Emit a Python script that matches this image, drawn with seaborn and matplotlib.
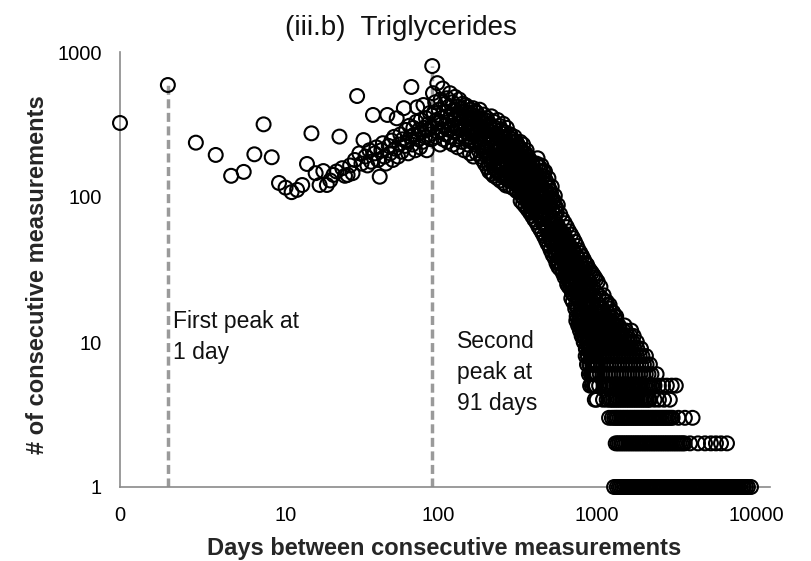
import matplotlib
matplotlib.use("Agg")
import matplotlib.pyplot as plt
from matplotlib.ticker import NullLocator, FixedLocator, FixedFormatter
import pandas as pd
import seaborn as sns

# ---------------- data ----------------
# days 0..91, one count per day
early_days = list(range(0, 92))
early_counts = [324, 592, 237, 195, 140, 149, 197, 317, 188, 125,
                116, 108, 112, 121, 169, 275, 146, 121, 151, 121,
                130, 142, 150, 261, 158, 140, 142, 165, 146, 180,
                497, 200, 170, 247, 190, 165, 210, 175, 368, 200,
                220, 180, 138, 210, 235, 190, 170, 368, 225, 200,
                245, 180, 260, 215, 349, 190, 230, 270, 205, 250,
                410, 225, 290, 240, 200, 310, 260, 574, 230, 300,
                270, 210, 330, 416, 250, 290, 220, 340, 280, 240,
                431, 300, 260, 350, 210, 290, 320, 270, 380, 300,
                250, 800]

# days 92..201
mid_a_days = list(range(92, 202))
mid_a_counts = [520, 380, 300, 450, 260, 340, 610, 280, 400, 330,
                230, 470, 350, 290, 560, 250, 390, 310, 440, 270,
                360, 480, 240, 330, 420, 290, 520, 260, 370, 310,
                450, 230, 340, 400, 280, 490, 250, 360, 300, 420,
                220, 380, 320, 470, 260, 350, 290, 410, 240, 330,
                440, 270, 360, 210, 390, 300, 430, 250, 340, 280,
                420, 230, 320, 380, 260, 350, 200, 400, 290, 330,
                240, 370, 280, 410, 190, 340, 300, 360, 230, 390,
                270, 320, 200, 380, 250, 350, 290, 210, 330, 260,
                400, 240, 310, 190, 350, 270, 230, 330, 180, 300,
                250, 370, 210, 290, 170, 340, 260, 220, 310, 190]

# days 202..400 (even days)
mid_b_days = list(range(202, 401, 2))
mid_b_counts = [350, 230, 290, 170, 320, 200, 260, 360, 180, 280,
                240, 330, 160, 300, 210, 270, 150, 340, 230, 190,
                310, 250, 170, 290, 140, 260, 200, 320, 220, 160,
                280, 190, 240, 135, 300, 210, 170, 260, 150, 230,
                200, 270, 140, 240, 180, 130, 250, 160, 220, 190,
                260, 145, 210, 170, 240, 125, 190, 230, 150, 200,
                120, 220, 170, 240, 140, 190, 110, 210, 160, 180,
                230, 130, 170, 105, 200, 150, 120, 190, 140, 210,
                100, 170, 130, 190, 115, 150, 95, 180, 125, 160,
                140, 100, 175, 120, 90, 150, 110, 165, 130, 85]

# days 203..399 (odd days)
mid_b2_days = list(range(203, 400, 2))
mid_b2_counts = [160, 270, 190, 150, 310, 175, 220, 145, 250, 185,
                 140, 205, 290, 155, 235, 170, 135, 260, 190, 150,
                 215, 130, 175, 275, 145, 200, 160, 125, 235, 180,
                 140, 250, 120, 195, 165, 230, 130, 185, 150, 270,
                 118, 205, 160, 135, 240, 145, 180, 115, 215, 155,
                 125, 190, 140, 225, 110, 170, 135, 205, 120, 160,
                 195, 108, 150, 130, 215, 115, 175, 140, 100, 190,
                 125, 160, 98, 180, 135, 110, 200, 120, 150, 95,
                 165, 105, 140, 90, 175, 120, 100, 155, 88, 135,
                 115, 80, 150, 95, 125, 78, 140, 100, 82]

# days 404..1000 (every fourth day)
mid_c_days = list(range(404, 1001, 4))
mid_c_counts = [150, 95, 125, 170, 80, 110, 140, 75, 160, 100,
                120, 72, 135, 90, 150, 65, 110, 85, 130, 62,
                105, 70, 120, 55, 90, 75, 110, 50, 95, 65,
                80, 48, 92, 60, 42, 75, 55, 85, 40, 65,
                50, 36, 62, 42, 55, 32, 46, 58, 38, 52,
                44, 30, 55, 36, 48, 28, 40, 52, 33, 45,
                38, 25, 46, 30, 42, 24, 35, 44, 28, 38,
                32, 20, 40, 26, 35, 19, 30, 42, 23, 34,
                28, 17, 36, 22, 31, 15, 26, 38, 20, 29,
                24, 14, 32, 19, 27, 13, 22, 34, 17, 25,
                20, 11, 28, 15, 23, 10, 18, 30, 13, 21,
                17, 8, 25, 12, 19, 7, 15, 27, 10, 18,
                14, 6, 22, 9, 16, 5, 12, 24, 8, 15,
                11, 5, 19, 7, 14, 6, 10, 21, 8, 13,
                9, 4, 17, 6, 12, 5, 8, 19, 7, 11]

# days 406..998 (every fourth day, offset)
mid_c2_days = list(range(406, 1000, 4))
mid_c2_counts = [88, 140, 78, 120, 100, 165, 82, 130, 92, 150,
                 70, 115, 85, 140, 66, 100, 125, 75, 95, 110,
                 60, 98, 80, 115, 52, 88, 68, 105, 58, 82,
                 50, 72, 95, 45, 66, 85, 40, 58, 78, 48,
                 42, 60, 35, 52, 45, 38, 57, 40, 48, 34,
                 38, 50, 31, 44, 56, 35, 42, 29, 50, 37,
                 30, 43, 27, 38, 48, 31, 26, 40, 34, 24,
                 28, 38, 22, 33, 44, 25, 30, 21, 36, 27,
                 23, 33, 18, 29, 40, 21, 26, 17, 31, 24,
                 19, 29, 15, 25, 35, 17, 22, 14, 28, 20,
                 16, 26, 12, 21, 32, 14, 19, 11, 24, 17,
                 13, 22, 9, 18, 29, 11, 16, 8, 21, 14,
                 10, 19, 7, 15, 26, 9, 13, 6, 18, 12,
                 8, 16, 6, 12, 24, 7, 11, 5, 15, 9,
                 7, 14, 5, 10, 22, 6, 9, 4, 12]

# high-count days along the upper-right rim of the cloud
rim_high_days = [422, 446, 470, 494, 518, 542, 566, 586, 606, 626,
                 646, 666, 686, 706, 726, 746, 766, 786, 806, 826,
                 846, 866, 886, 906, 926, 946, 966, 986, 1010, 1050,
                 1100, 1150, 1200, 1260, 1320]
rim_high_counts = [185, 165, 150, 135, 118, 102, 88, 76, 70, 66,
                   62, 58, 55, 52, 49, 46, 43, 41, 39, 37,
                   35, 34, 32, 31, 30, 29, 28, 27, 26, 24,
                   21, 19, 18, 16, 15]

# low-count days along the lower-left rim of the cloud
rim_low_days = [330, 342, 354, 366, 378, 390, 402, 414, 426, 438,
                450, 462, 474, 486, 498, 510, 525, 540, 555, 570]
rim_low_counts = [94, 90, 86, 82, 78, 74, 70, 67, 63, 60,
                  57, 54, 51, 48, 46, 43, 40, 38, 35, 33]

late_days = [1008, 1024, 1040, 1056, 1072, 1088, 1104, 1120, 1136, 1152,
             1168, 1184, 1200, 1230, 1260, 1290]
late_counts = [16, 21, 18, 15, 20, 17, 16, 19, 15, 18,
               16, 15, 17, 15, 16, 15]

# days whose count equals a given small value
days_count_1 = [1280, 1330, 1370, 1405, 1441, 1477, 1516, 1557, 1596, 1637,
                1681, 1723, 1769, 1816, 1861, 1911, 1959, 2012, 2062, 2118,
                2171, 2229, 2285, 2347, 2406, 2470, 2532, 2600, 2666, 2737,
                2806, 2881, 2954, 3033, 3110, 3193, 3274, 3361, 3446, 3538,
                3628, 3724, 3819, 3920, 4020, 4127, 4232, 4344, 4455, 4573,
                4690, 4814, 4937, 5067, 5197, 5334, 5471, 5615, 5759, 5911,
                6063, 6222, 6382, 6550, 6718, 6895, 7072, 7258, 7444, 7640,
                7836, 8042, 8249, 8400, 8650, 8900, 9300]
days_count_2 = [1310, 1345, 1378, 1416, 1451, 1491, 1528, 1570, 1609, 1653,
                1694, 1740, 1783, 1831, 1877, 1928, 1976, 2029, 2080, 2136,
                2190, 2249, 2305, 2367, 2427, 2492, 2555, 2623, 2689, 2761,
                2831, 2907, 2980, 3060, 3137, 3221, 3303, 3391, 3477, 3560,
                3846, 4317, 4777, 5208, 5600, 6025, 6570]
days_count_3 = [1190, 1240, 1280, 1314, 1346, 1383, 1417, 1456, 1492, 1533,
                1571, 1614, 1654, 1699, 1741, 1788, 1832, 1882, 1929, 1981,
                2031, 2086, 2138, 2195, 2250, 2311, 2369, 2433, 2494, 2561,
                2625, 2695, 2763, 2837, 2909, 2990, 3250, 3570, 3990]
days_count_4 = [1090, 1150, 1200, 1232, 1262, 1297, 1329, 1365, 1399, 1437,
                1472, 1513, 1550, 1592, 1632, 1676, 1718, 1764, 1808, 1857,
                1904, 1955, 2004, 2058, 2110, 2150, 2300, 2450, 2640, 2870]
days_count_5 = [960, 1030, 1100, 1129, 1157, 1189, 1218, 1252, 1282, 1318,
                1350, 1387, 1421, 1460, 1496, 1537, 1575, 1618, 1658, 1703,
                1746, 1793, 1838, 1887, 1934, 1987, 2036, 2091, 2144, 2201,
                2257, 2300, 2450, 2600, 2750, 2950, 3130]
days_count_6 = [960, 1000, 1040, 1082, 1125, 1170, 1217, 1266, 1316, 1369,
                1424, 1481, 1540, 1602, 1666, 1732, 1801, 1873, 1948, 2026,
                2107, 2200, 2370]
days_count_7 = [900, 936, 973, 1012, 1053, 1095, 1139, 1184, 1232, 1281,
                1332, 1385, 1441, 1498, 1558, 1621, 1686, 1753, 1823, 1896,
                1972, 2050, 2150]
days_count_8 = [880, 915, 952, 990, 1030, 1071, 1114, 1158, 1205, 1253,
                1303, 1355, 1409, 1466, 1524, 1585, 1649, 1715, 1783, 1855,
                1929, 2030]
days_count_9 = [850, 884, 919, 956, 994, 1034, 1075, 1118, 1163, 1210,
                1258, 1308, 1361, 1415, 1472, 1531, 1592, 1656, 1722, 1791,
                1890]
days_count_10 = [830, 863, 898, 934, 971, 1010, 1050, 1092, 1136, 1181,
                 1229, 1278, 1329, 1382, 1437, 1495, 1555, 1617, 1682, 1780]
days_count_11 = [800, 832, 865, 900, 936, 973, 1012, 1053, 1095, 1139,
                 1184, 1232, 1281, 1332, 1385, 1441, 1499, 1559, 1620, 1700]
days_count_12 = [780, 811, 844, 877, 912, 949, 987, 1026, 1067, 1110,
                 1154, 1201, 1249, 1299, 1351, 1405, 1461, 1519, 1640]
days_count_13 = [760, 790, 822, 855, 889, 925, 962, 1000, 1040, 1082,
                 1125, 1170, 1217, 1266, 1316, 1369, 1490]
days_count_14 = [740, 770, 800, 832, 866, 900, 936, 974, 1013, 1053,
                 1095, 1139, 1185, 1232, 1320]

x_tick_days = [0, 10, 100, 1000, 10000]
x_tick_labels = ["0", "10", "100", "1000", "10000"]
y_ticks = [1, 10, 100, 1000]
y_tick_labels = ["1", "10", "100", "1000"]
peak_days = [1, 91]
peak_counts = [early_counts[1], early_counts[91]]

# ---------------- assemble ----------------
pairs = [(early_days, early_counts), (mid_a_days, mid_a_counts),
         (mid_b_days, mid_b_counts), (mid_b2_days, mid_b2_counts),
         (mid_c_days, mid_c_counts), (mid_c2_days, mid_c2_counts),
         (rim_high_days, rim_high_counts), (rim_low_days, rim_low_counts),
         (late_days, late_counts)]
frames = [pd.DataFrame({"day": d, "count": c}) for d, c in pairs]
level_lists = [days_count_1, days_count_2, days_count_3, days_count_4,
               days_count_5, days_count_6, days_count_7, days_count_8,
               days_count_9, days_count_10, days_count_11, days_count_12,
               days_count_13, days_count_14]
for lvl, dl in enumerate(level_lists, start=1):
    frames.append(pd.DataFrame({"day": dl, "count": [lvl] * len(dl)}))
df = pd.concat(frames, ignore_index=True)
df = df.sort_values("day", kind="stable").reset_index(drop=True)
df["x"] = df["day"] + 1          # axis is log(days + 1)

# ---------------- plot ----------------
sns.set_style("white")
plt.rcParams["font.family"] = ["Liberation Sans", "DejaVu Sans"]

fig = plt.figure(figsize=(8.12, 5.61), dpi=100)
ax = fig.add_axes([120 / 812, 1 - 487 / 561, 650 / 812, 435 / 561])

ax.set_xscale("log")
ax.set_yscale("log")
ax.set_xlim(1, 12250)
ax.set_ylim(1, 1000)

ax.vlines([d + 1 for d in peak_days], 1, peak_counts, colors="#9a9a9a",
          linewidth=2.5, linestyles=(0, (2.6, 1.3)), zorder=2)

sns.scatterplot(data=df, x="x", y="count", ax=ax, s=100,
                facecolors="none", edgecolors="black", linewidth=1.5,
                clip_on=False, zorder=3, legend=False)

for side in ["top", "right"]:
    ax.spines[side].set_visible(False)
for side in ["left", "bottom"]:
    ax.spines[side].set_color("#8a8a8a")
    ax.spines[side].set_linewidth(1.2)

ax.xaxis.set_major_locator(FixedLocator([d + 1 for d in x_tick_days]))
ax.xaxis.set_major_formatter(FixedFormatter(x_tick_labels))
ax.yaxis.set_major_locator(FixedLocator(y_ticks))
ax.yaxis.set_major_formatter(FixedFormatter(y_tick_labels))
ax.xaxis.set_minor_locator(NullLocator())
ax.yaxis.set_minor_locator(NullLocator())
ax.tick_params(axis="y", direction="out", length=5, width=1.2,
               color="#8a8a8a", labelsize=14.5, pad=8, labelcolor="black")
ax.tick_params(axis="x", direction="out", length=4, width=1.2,
               color="#8a8a8a", labelsize=14.5, pad=10, labelcolor="black")
ax.set_xlabel("")
ax.set_ylabel("")

ax.text(0.0815, 0.407, "First peak at\n1 day", transform=ax.transAxes,
        fontsize=16.5, ha="left", va="top", linespacing=1.45, color="#111111")
ax.text(0.5185, 0.361, "Second\npeak at\n91 days", transform=ax.transAxes,
        fontsize=16.5, ha="left", va="top", linespacing=1.45, color="#111111")

fig.text(401 / 812, 1 - 28 / 561, "(iii.b)  Triglycerides", fontsize=20,
         ha="center", va="center", color="#111111")
fig.text(444 / 812, 1 - 548 / 561, "Days between consecutive measurements",
         fontsize=17, fontweight="bold", ha="center", va="center")
fig.text(38 / 812, 1 - 275 / 561, "# of consecutive measurements",
         fontsize=17, fontweight="bold", ha="center", va="center",
         rotation=90)

fig.savefig("out.png", dpi=100)
